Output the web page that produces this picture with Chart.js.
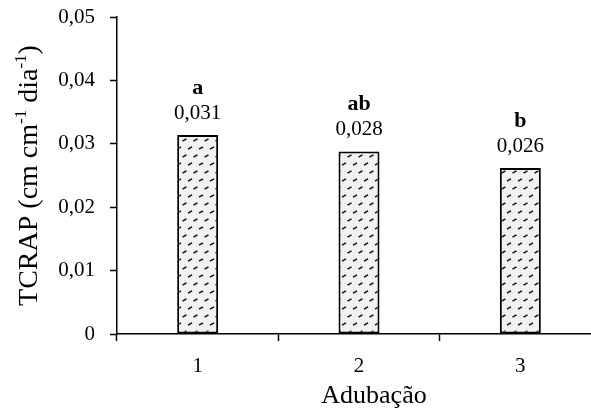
<!DOCTYPE html>
<html>
<head>
<meta charset="utf-8">
<script src="https://cdn.jsdelivr.net/npm/chart.js@4"></script>
<style>
  html, body { margin: 0; padding: 0; background: #fff; overflow: hidden; }
  #wrap { width: 610px; height: 410px; }
</style>
</head>
<body>
<div id="wrap"><canvas id="tcrapChart" width="610" height="410"></canvas></div>
<script>
// === DATA ===
const categories = ['1', '2', '3'];
const tcrapValues = [0.0314, 0.0288, 0.0262];
const valueLabels = ['0,031', '0,028', '0,026'];
const letters = ['a', 'ab', 'b'];
const yTickLabels = ['0', '0,01', '0,02', '0,03', '0,04', '0,05'];

const FONT = "'Liberation Serif', 'Times New Roman', serif";

// dotted / dashed fill like the excel pattern
function makePattern() {
    const c = document.createElement('canvas');
    c.width = 11;
    c.height = 16;
    const g = c.getContext('2d');
    g.fillStyle = '#f2f2f2';
    g.fillRect(0, 0, 11, 16);
    g.strokeStyle = '#111';
    g.lineWidth = 1.5;
    [[3, 4], [8.5, 12]].forEach(function(p) {
        g.beginPath();
        g.moveTo(p[0] - 2, p[1] + 1.2);
        g.lineTo(p[0] + 2, p[1] - 1.2);
        g.stroke();
    });
    return g.createPattern(c, 'repeat');
}

// letters + value labels above the bars
const barLabels = {
    id: 'barLabels',
    afterDatasetsDraw(chart) {
        const ctx = chart.ctx;
        const meta = chart.getDatasetMeta(0);
        ctx.save();
        ctx.fillStyle = '#000';
        ctx.textAlign = 'center';
        ctx.textBaseline = 'alphabetic';
        meta.data.forEach(function(bar, i) {
            ctx.font = '21px ' + FONT;
            ctx.fillText(valueLabels[i], bar.x, bar.y - 16);
            ctx.font = 'bold 22px ' + FONT;
            ctx.fillText(letters[i], bar.x, bar.y - 41);
        });
        ctx.restore();
    }
};

// axis titles (y title has superscripts)
const axisTitles = {
    id: 'axisTitles',
    afterDraw(chart) {
        const ctx = chart.ctx;
        const area = chart.chartArea;
        ctx.save();
        ctx.fillStyle = '#000';

        ctx.font = '26px ' + FONT;
        ctx.textAlign = 'center';
        ctx.textBaseline = 'alphabetic';
        ctx.fillText('Adubação', 374, 403);

        const parts = [
            { t: 'TCRAP (cm cm', sup: false },
            { t: '-1', sup: true },
            { t: ' dia', sup: false },
            { t: '-1', sup: true },
            { t: ')', sup: false }
        ];
        const size = 28;
        const supSize = 17;
        let total = 0;
        parts.forEach(function(p) {
            ctx.font = (p.sup ? supSize : size) + 'px ' + FONT;
            p.w = ctx.measureText(p.t).width;
            total += p.w;
        });
        ctx.translate(37, (area.top + area.bottom) / 2);
        ctx.rotate(-Math.PI / 2);
        ctx.textAlign = 'left';
        let x = -total / 2;
        parts.forEach(function(p) {
            ctx.font = (p.sup ? supSize : size) + 'px ' + FONT;
            ctx.fillText(p.t, x, p.sup ? -11 : 0);
            x += p.w;
        });
        ctx.restore();
    }
};

new Chart(document.getElementById('tcrapChart').getContext('2d'), {
    type: 'bar',
    data: {
        labels: categories,
        datasets: [{
            data: tcrapValues,
            backgroundColor: makePattern(),
            borderColor: '#000',
            borderWidth: 2,
            borderSkipped: false,
            categoryPercentage: 1,
            barPercentage: 0.254
        }]
    },
    options: {
        responsive: false,
        animation: false,
        layout: {
            padding: { top: 17, right: 9, bottom: 0, left: 0 }
        },
        plugins: {
            legend: { display: false },
            tooltip: { enabled: false }
        },
        scales: {
            x: {
                grid: {
                    offset: true,
                    drawOnChartArea: false,
                    drawTicks: true,
                    tickLength: 7,
                    tickColor: '#000',
                    tickWidth: 1.5
                },
                border: { color: '#000', width: 1.5 },
                ticks: {
                    color: '#000',
                    padding: 13,
                    font: { family: FONT, size: 21 }
                },
                afterFit: function(scale) { scale.height = 76; }
            },
            y: {
                min: 0,
                max: 0.05,
                grid: {
                    drawOnChartArea: false,
                    drawTicks: true,
                    tickLength: 7,
                    tickColor: '#000',
                    tickWidth: 1.5
                },
                border: { color: '#000', width: 1.5 },
                ticks: {
                    stepSize: 0.01,
                    color: '#000',
                    padding: 15,
                    font: { family: FONT, size: 21 },
                    callback: function(value, index) { return yTickLabels[index]; }
                },
                afterFit: function(scale) {
                    scale.width = 117;
                    scale.paddingTop = 0;
                    scale.paddingBottom = 0;
                }
            }
        }
    },
    plugins: [barLabels, axisTitles]
});
</script>
</body>
</html>
